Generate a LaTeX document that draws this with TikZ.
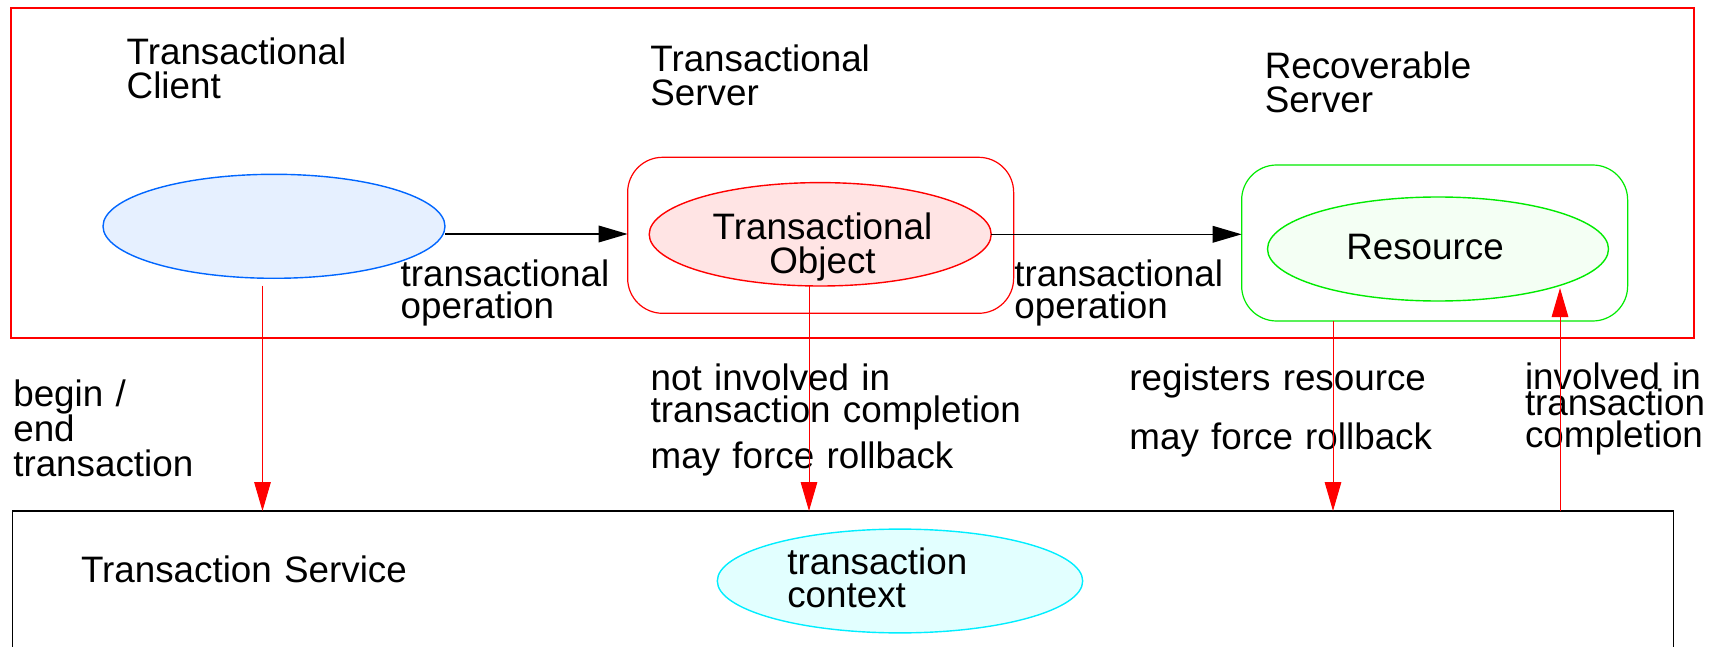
\documentclass[tikz,border=0pt]{standalone}
\usepackage{fontspec}
\setmainfont{Liberation Sans}
\usetikzlibrary{shapes.geometric,arrows.meta}

\definecolor{clientline}{RGB}{0,102,255}
\definecolor{clientfill}{RGB}{230,240,255}
\definecolor{objfill}{RGB}{255,228,228}
\definecolor{resline}{RGB}{0,235,0}
\definecolor{resfill}{RGB}{244,255,244}
\definecolor{ctxline}{RGB}{0,238,255}
\definecolor{ctxfill}{RGB}{226,255,255}

\begin{document}
\begin{tikzpicture}[x=0.5pt,y=-0.5pt,
  every node/.style={inner sep=0pt, outer sep=0pt},
  txt/.style={anchor=base west, align=left, font=\fontsize{18.4pt}{#1}\selectfont},
  txt/.default=16.65pt,
  ctxt/.style={anchor=base, align=center, font=\fontsize{18.4pt}{#1}\selectfont},
  ctxt/.default=16.65pt,
  zone/.style={draw, rectangle, line width=0.55pt},
  srv/.style={draw, rectangle, rounded corners=17.5pt, line width=0.6pt,
              minimum width=193pt, minimum height=78pt},
  obj/.style={draw, ellipse, line width=0.7pt},
  tip/.style={-{Triangle[length=14.5pt,width=8.3pt]}},
  op/.style={tip, black, line width=0.8pt},
  ctl/.style={tip, red, line width=0.5pt}]

% page and white ground
\useasboundingbox (0,0) rectangle (1715,647);
\fill[white] (0,0) rectangle (1715,647);
\clip (0,0) rectangle (1715,647);

% application area and transaction service area
\node[zone, draw=red, minimum width=841.5pt, minimum height=165pt] (apps) at (852.5,173) {};
\node[zone, draw=black, line width=0.7pt, minimum width=830.6pt, minimum height=144.5pt] (tsvc) at (842.9,655.5) {};

% servers and their objects
\node[srv, draw=red] (tserver) at (820.65,235.3) {};
\node[srv, draw=resline] (rserver) at (1434.65,243) {};
\node[obj, draw=clientline, fill=clientfill, minimum width=171pt, minimum height=52pt] (client) at (274,226.3) {};
\node[obj, draw=red, fill=objfill, minimum width=171pt, minimum height=51.7pt] (tobj) at (820.2,234.3) {};
\node[obj, draw=resline, fill=resfill, minimum width=170.5pt, minimum height=52pt] (res) at (1438,249) {};
\node[obj, draw=ctxline, fill=ctxfill, minimum width=182.7pt, minimum height=51.9pt] (ctx) at (900,581) {};

% titles
\node[txt, text width=116pt] (clientlbl) at (126.7,65) {Transactional\\Client};
\node[txt=17pt, text width=116pt] (tserverlbl) at (650.4,71.7) {Transactional\\Server};
\node[txt, text width=110pt] (rserverlbl) at (1264.8,79) {Recoverable\\Server};
\node[ctxt=17.3pt, text width=116pt] (tobjlbl) at (822.5,239.3) {Transactional\\Object};
\node[ctxt, text width=84pt] (reslbl) at (1425,259.3) {Resource};
\node[txt, text width=168pt] (tsvclbl) at (81,582.3) {Transaction Service};
\node[txt, text width=96pt] (ctxlbl) at (787.3,574) {transaction\\context};

% operation labels
\node[txt=16pt, text width=108pt] (op1lbl) at (400.7,286.7) {transactional\\operation};
\node[txt=16pt, text width=108pt] (op2lbl) at (1014.4,286.7) {transactional\\operation};

% labels of the links to the transaction service
\node[txt=17.5pt, text width=96pt] (beginlbl) at (13.3,406.7) {begin /\\end\\transaction};
\node[txt=15.8pt, text width=190pt] (notinvlbl) at (650.7,390.7) {not involved in\\transaction completion};
\node[txt, text width=154pt] (roll1lbl) at (650.7,468) {may force rollback};
\node[txt, text width=154pt] (reglbl) at (1129.4,390.7) {registers resource};
\node[txt, text width=154pt] (roll2lbl) at (1129.4,449.3) {may force rollback};
\node[txt=16.3pt, text width=93pt] (invlbl) at (1525,389.3) {involved in\\[-3.3pt]transaction\\completion};

% transactional operations
\draw[op] (client.east |- 0,234) -- (tserver.west |- 0,234);
\draw[op] (tobj.east) -- (rserver.west |- tobj.east);

% links with the transaction service
\coordinate (beginpt) at (262.5,285.7);
\coordinate (rollx) at (809,0);
\coordinate (regx) at (1333,0);
\coordinate (invpt) at (1560,288);
\draw[ctl] (beginpt) -- (beginpt |- tsvc.north);
\draw[ctl] (rollx |- tobj.south) -- (rollx |- tsvc.north);
\draw[ctl] (regx |- rserver.south) -- (regx |- tsvc.north);
\draw[ctl] (invpt |- tsvc.north) -- (invpt);
\end{tikzpicture}
\end{document}
